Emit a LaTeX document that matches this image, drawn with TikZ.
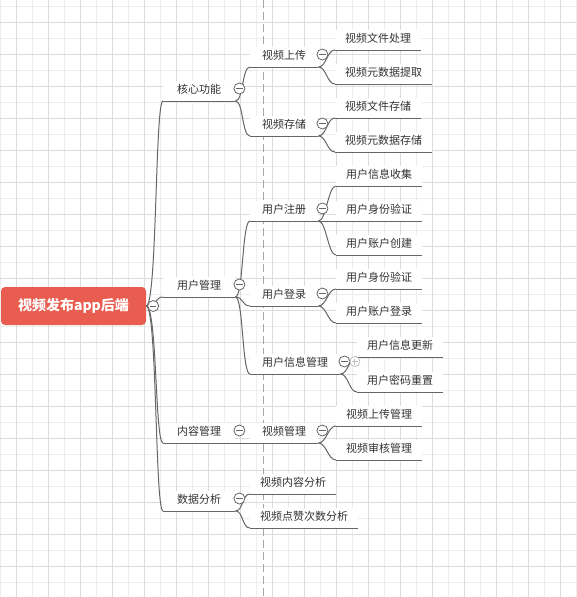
\documentclass[tikz,border=0pt]{standalone}
\usepackage{fontspec}
\setmainfont{Noto Sans CJK SC}
\definecolor{rootred}{HTML}{E85D50}
\definecolor{txt}{HTML}{333333}
\definecolor{edgegray}{HTML}{666666}
\definecolor{gridmin}{HTML}{EDEDED}
\definecolor{gridmaj}{HTML}{DCDCDC}
\begin{document}
\begin{tikzpicture}
	[x=1pt,y=-1pt,
	gridline/.style={draw=gridmin,line width=1pt},
	gridbold/.style={draw=gridmaj,line width=1pt},
	midline/.style={draw=black!35,line width=.9pt,dash pattern=on 8pt off 4pt},
	branch/.style={draw=edgegray,line width=1pt},
	rootbox/.style={fill=rootred,rounded corners=4pt,minimum width=145pt,minimum height=38pt,inner sep=0pt,text=white,font=\fontsize{14pt}{16pt}\selectfont\bfseries},
	topic/.style={anchor=south west,fill=white,inner xsep=10pt,inner ysep=4pt,text height=9pt,text depth=3pt,text=txt,font=\fontsize{11pt}{13pt}\selectfont,
		append after command={(\tikzlastnode.south west) edge[branch] (\tikzlastnode.south east)}},
	parent/.style={topic,inner xsep=12pt},
	main/.style={topic,inner xsep=14pt},
	fold/.style={circle,draw=edgegray,fill=white,line width=.8pt,minimum size=11pt,inner sep=0pt,
		path picture={\draw[edgegray,line width=.9pt] ([xshift=-3.2pt]path picture bounding box.center)--([xshift=3.2pt]path picture bounding box.center);}},
	unfold/.style={circle,draw=black!25,fill=white,line width=.8pt,minimum size=10pt,inner sep=0pt,
		path picture={\draw[black!25,line width=.9pt] ([xshift=-3pt]path picture bounding box.center)--([xshift=3pt]path picture bounding box.center)
			([yshift=-3pt]path picture bounding box.center)--([yshift=3pt]path picture bounding box.center);}}]
	\useasboundingbox (0,0) rectangle (577,597);
	\fill[white] (0,0) rectangle (577,597);
	\foreach \gx in {0,16,...,576} \draw[gridline] (\gx,0) -- (\gx,597);
	\foreach \gy in {6,22,...,597} \draw[gridline] (0,\gy) -- (577,\gy);
	\foreach \gx in {16,48,...,576} \draw[gridbold] (\gx,0) -- (\gx,597);
	\foreach \gy in {22,54,...,597} \draw[gridbold] (0,\gy) -- (577,\gy);
	\draw[midline] (263,0) -- (263,597);

	\node[rootbox] (root) at (73.5,306) {视频发布app后端};

	\node[main] (core) at (163,101) {核心功能};
	\node[main] (user) at (163,297) {用户管理};
	\node[main] (content) at (163,443) {内容管理};
	\node[main] (data) at (163,511) {数据分析};

	\node[parent] (upload) at (250,67) {视频上传};
	\node[parent] (store) at (250,136) {视频存储};
	\node[parent] (reg) at (250,221) {用户注册};
	\node[parent] (login) at (250,306) {用户登录};
	\node[parent] (info) at (250,374) {用户信息管理};
	\node[parent] (vman) at (250,443) {视频管理};
	\node[topic] (dcont) at (250,494) {视频内容分析};
	\node[topic] (dlike) at (250,528) {视频点赞次数分析};

	\node[topic] (upa) at (335,50) {视频文件处理};
	\node[topic] (upb) at (335,84) {视频元数据提取};
	\node[topic] (sta) at (335,118) {视频文件存储};
	\node[topic] (stb) at (335,152) {视频元数据存储};
	\node[topic] (rega) at (336,186) {用户信息收集};
	\node[topic] (regb) at (336,221) {用户身份验证};
	\node[topic] (regc) at (336,255) {用户账户创建};
	\node[topic] (loga) at (336,289) {用户身份验证};
	\node[topic] (logb) at (336,323) {用户账户登录};
	\node[topic] (infa) at (357,357) {用户信息更新};
	\node[topic] (infb) at (357,392) {用户密码重置};
	\node[topic] (vma) at (336,426) {视频上传管理};
	\node[topic] (vmb) at (336,460) {视频审核管理};

	\foreach \c in {core,user,content,data}
		\draw[branch] (root.east) .. controls +(11,0) and +(-8,0) .. (\c.south west);
	\foreach \p/\c in {core/upload,core/store,user/reg,user/login,user/info,content/vman,data/dcont,data/dlike,
		upload/upa,upload/upb,store/sta,store/stb,reg/rega,reg/regb,reg/regc,login/loga,login/logb,info/infa,info/infb,vman/vma,vman/vmb}
		\draw[branch] (\p.south east) .. controls +(8,0) and +(-8,0) .. (\c.south west);

	\node[fold] (rootF) at ([xshift=7pt]root.east) {};
	\foreach \n in {core,user,content,data,upload,store,reg,login,info,vman}
		\node[fold] (\n F) at ([xshift=4pt,yshift=12.5pt]\n.south east) {};
	\node[unfold] (infoP) at ([xshift=10.5pt]infoF.center) {};
\end{tikzpicture}
\end{document}
